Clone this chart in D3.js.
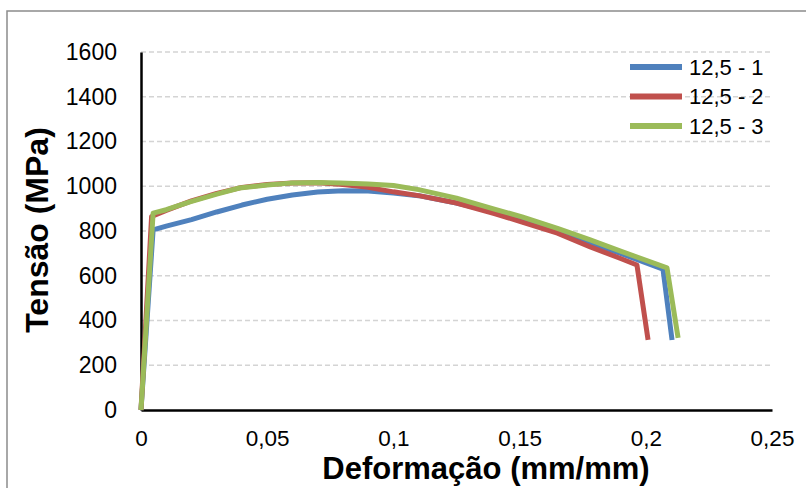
<!DOCTYPE html>
<html>
<head>
<meta charset="utf-8">
<script src="https://cdn.jsdelivr.net/npm/d3@7"></script>
<style>
  body { margin: 0; background: #fff; }
  svg { display: block; font-family: "Liberation Sans", Arial, sans-serif; }
</style>
</head>
<body>
<div id="chart"></div>
<script>
// series names and colours
const seriesNames = ["12,5 - 1", "12,5 - 2", "12,5 - 3"];
const seriesColors = ["#4f81bd", "#c0504d", "#9bbb59"];

// strain (mm/mm) and stress (MPa)
const strain1 = [0, 0.0048, 0.01, 0.02, 0.03, 0.04, 0.05, 0.06, 0.07, 0.08, 0.09, 0.1, 0.11, 0.125, 0.14, 0.151, 0.165, 0.178, 0.19, 0.2068, 0.2104];
const stress1 = [0, 805, 822, 851, 885, 916, 942, 961, 974, 980, 979, 970, 958, 925, 885, 849, 800, 746, 700, 630, 313];

const strain2 = [0, 0.0042, 0.01, 0.02, 0.03, 0.04, 0.05, 0.06, 0.07, 0.08, 0.09, 0.1, 0.11, 0.125, 0.14, 0.151, 0.165, 0.178, 0.19, 0.1965, 0.2009];
const stress2 = [0, 865, 892, 935, 968, 995, 1008, 1015, 1016, 1008, 995, 975, 958, 925, 878, 840, 790, 729, 677, 648, 313];

const strain3 = [0, 0.0048, 0.01, 0.0194, 0.03, 0.039, 0.05, 0.059, 0.07, 0.079, 0.09, 0.1, 0.11, 0.125, 0.14, 0.151, 0.165, 0.178, 0.19, 0.2084, 0.2128];
const stress3 = [0, 880, 895, 930, 965, 992, 1006, 1014, 1017, 1015, 1010, 1003, 985, 947, 898, 863, 812, 760, 710, 635, 322];

const xTicks = [0, 0.05, 0.1, 0.15, 0.2, 0.25];
const yTicks = [0, 200, 400, 600, 800, 1000, 1200, 1400, 1600];

const width = 806;
const height = 488;
const margin = { top: 52, right: 34, bottom: 78, left: 141 };

const series = [
  { name: seriesNames[0], color: seriesColors[0], pts: strain1.map((d, i) => [d, stress1[i]]) },
  { name: seriesNames[1], color: seriesColors[1], pts: strain2.map((d, i) => [d, stress2[i]]) },
  { name: seriesNames[2], color: seriesColors[2], pts: strain3.map((d, i) => [d, stress3[i]]) }
];

const svg = d3.select("#chart")
  .append("svg")
  .attr("width", width)
  .attr("height", height);

// outer chart border (runs off the right and bottom)
svg.append("rect")
  .attr("x", 7).attr("y", 11)
  .attr("width", width).attr("height", height)
  .attr("fill", "none")
  .attr("stroke", "#8c8c8c")
  .attr("stroke-width", 1.5);

const x = d3.scaleLinear()
  .domain([0, 0.25])
  .range([margin.left, width - margin.right]);

const y = d3.scaleLinear()
  .domain([0, 1600])
  .range([height - margin.bottom, margin.top]);

// gridlines
svg.append("g")
  .selectAll("line")
  .data(yTicks.filter(d => d > 0))
  .join("line")
  .attr("x1", x(0)).attr("x2", x(0.25))
  .attr("y1", d => y(d)).attr("y2", d => y(d))
  .attr("stroke", "#d4d4d4")
  .attr("stroke-width", 1.5)
  .attr("stroke-dasharray", "5,3");

function xAxis(g) {
  g.attr("transform", `translate(0,${y(0)})`)
    .call(d3.axisBottom(x).tickValues(xTicks)
      .tickFormat(d => String(d).replace(".", ","))
      .tickSize(0).tickPadding(20));
  g.select(".domain").attr("stroke", "#000").attr("stroke-width", 2.5);
  g.selectAll("text").attr("font-size", 22.5).attr("fill", "#000")
    .attr("font-family", "Liberation Sans, Arial, sans-serif");
}

function yAxis(g) {
  g.attr("transform", `translate(${x(0)},0)`)
    .call(d3.axisLeft(y).tickValues(yTicks).tickFormat(d3.format("d"))
      .tickSize(0).tickPadding(24));
  g.select(".domain").attr("stroke", "#000").attr("stroke-width", 2.5);
  g.selectAll("text").attr("font-size", 23).attr("fill", "#000")
    .attr("font-family", "Liberation Sans, Arial, sans-serif");
}

svg.append("g").call(xAxis);
svg.append("g").call(yAxis);

const line = d3.line()
  .x(d => x(d[0]))
  .y(d => y(d[1]));

svg.append("g")
  .selectAll("path")
  .data(series)
  .join("path")
  .attr("d", d => line(d.pts))
  .attr("fill", "none")
  .attr("stroke", d => d.color)
  .attr("stroke-width", 5)
  .attr("stroke-linejoin", "round")
  .attr("stroke-linecap", "butt");

// legend
const legend = svg.append("g")
  .selectAll("g")
  .data(series)
  .join("g")
  .attr("transform", (d, i) => `translate(630,${67 + i * 29.5})`);

legend.append("line")
  .attr("x1", 0).attr("x2", 52)
  .attr("stroke", d => d.color)
  .attr("stroke-width", 6);

legend.append("text")
  .attr("x", 59)
  .attr("dy", "0.35em")
  .attr("font-size", 22)
  .text(d => d.name);

// axis titles
svg.append("text")
  .attr("x", 486)
  .attr("y", 479)
  .attr("text-anchor", "middle")
  .attr("font-size", 31)
  .attr("font-weight", "bold")
  .text("Deformação (mm/mm)");

svg.append("text")
  .attr("transform", "translate(48,230) rotate(-90)")
  .attr("text-anchor", "middle")
  .attr("font-size", 32)
  .attr("font-weight", "bold")
  .text("Tensão (MPa)");
</script>
</body>
</html>
